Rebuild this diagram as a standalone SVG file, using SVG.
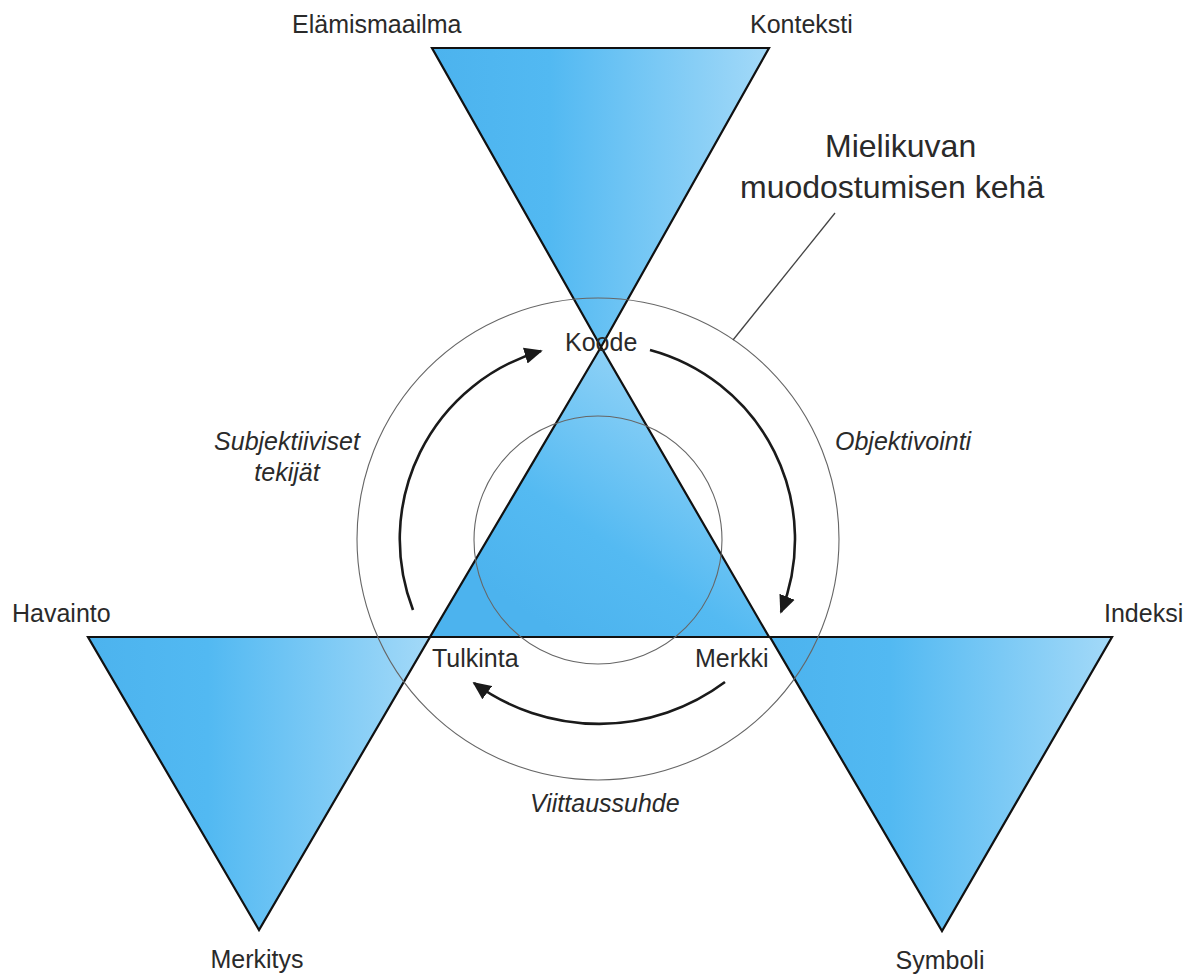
<svg xmlns="http://www.w3.org/2000/svg" width="1186" height="975" viewBox="0 0 1186 975">
<defs>
<linearGradient id="gH" x1="0" y1="0" x2="1" y2="0">
<stop offset="0" stop-color="#4cb3ee"/>
<stop offset="0.35" stop-color="#52b9f2"/>
<stop offset="1" stop-color="#a3d9f8"/>
</linearGradient>
<linearGradient id="gC" x1="0.2" y1="0.85" x2="0.8" y2="0.1">
<stop offset="0" stop-color="#4cb3ee"/>
<stop offset="0.35" stop-color="#54baf2"/>
<stop offset="1" stop-color="#98d5f7"/>
</linearGradient>
<marker id="ah" viewBox="0 0 10 10" refX="9" refY="5" markerWidth="7" markerHeight="7" markerUnits="strokeWidth" orient="auto">
<path d="M0,0.5 L10,5 L0,9.5 z" fill="#1a1a1a"/>
</marker>
<style>
.tri{stroke:#111;stroke-width:2.2;stroke-linejoin:miter}
.ring{fill:none;stroke:#666;stroke-width:1.1}
.arc{fill:none;stroke:#1a1a1a;stroke-width:2.6;marker-end:url(#ah)}
.lead{fill:none;stroke:#444;stroke-width:1.3}
.lbl{font-family:"Liberation Sans",Arial,sans-serif;font-size:25px;fill:#2a2a2a}
.it{font-style:italic}
.big{font-size:32px}
</style>
</defs>
<rect width="1186" height="975" fill="#fff"/>
<g id="triangles">
<g id="node-top"><polygon class="tri" points="432,48 769,48 601,347" fill="url(#gH)"/></g>
<g id="node-center"><polygon class="tri" points="601,347 430,637 769,637" fill="url(#gC)"/></g>
<g id="node-left"><polygon class="tri" points="88,637 430,637 259,930" fill="url(#gH)"/></g>
<g id="node-right"><polygon class="tri" points="770,637 1112,637 942,931" fill="url(#gH)"/></g>
</g>
<g id="rings">
<circle class="ring" cx="598" cy="539" r="241"/>
<circle class="ring" cx="598" cy="540" r="124"/>
</g>
<g id="connectors">
<path class="arc" d="M413,610 A196,196 0 0 1 541,351"/>
<path class="arc" d="M650,350 A196,196 0 0 1 781,612"/>
<path class="arc" d="M725,682 A211,211 0 0 1 474,683"/>
<line class="lead" x1="835" y1="213" x2="733" y2="340"/>
</g>
<g id="labels">
<text class="lbl" x="292" y="33">Elämismaailma</text>
<text class="lbl" x="750" y="33">Konteksti</text>
<text class="lbl big" x="825" y="157">Mielikuvan</text>
<text class="lbl big" x="740" y="198">muodostumisen kehä</text>
<text class="lbl" x="565" y="351">Koode</text>
<text class="lbl it" x="287" y="450" text-anchor="middle">Subjektiiviset</text>
<text class="lbl it" x="287" y="481" text-anchor="middle">tekijät</text>
<text class="lbl it" x="835" y="450">Objektivointi</text>
<text class="lbl" x="12" y="622">Havainto</text>
<text class="lbl" x="1104" y="622">Indeksi</text>
<text class="lbl" x="432" y="667">Tulkinta</text>
<text class="lbl" x="695" y="667">Merkki</text>
<text class="lbl it" x="530" y="812">Viittaussuhde</text>
<text class="lbl" x="257" y="968" text-anchor="middle">Merkitys</text>
<text class="lbl" x="940" y="969" text-anchor="middle">Symboli</text>
</g>
</svg>
